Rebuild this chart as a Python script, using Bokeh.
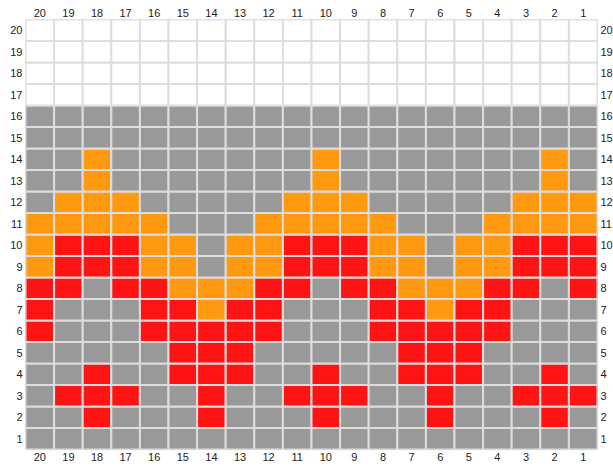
from bokeh.plotting import figure
from bokeh.models import CategoricalAxis, ColumnDataSource
from bokeh.embed import file_html
from bokeh.resources import INLINE

col_labels = [str(c) for c in range(20, 0, -1)]   # left to right
row_labels = [str(r) for r in range(1, 21)]       # bottom to top

# rows listed bottom (1) to top (20); each string reads columns 20..1 left to right
# G = gray, O = orange, R = red, W = white
rows = [
    "GGGGGGGGGGGGGGGGGGGG",  # 1
    "GGRGGGRGGGRGGGRGGGRG",  # 2
    "GRRRGGRGGRRRGGRGGRRR",  # 3
    "GGRGGRRRGGRGGRRRGGRG",  # 4
    "GGGGGRRRGGGGGRRRGGGG",  # 5
    "RGGGRRRRRGGGRRRRRGGG",  # 6
    "RGGGRRORRGGGRRORRGGG",  # 7
    "RRGRROOORRGRROOORRGR",  # 8
    "ORRROOGOORRROOGOORRR",  # 9
    "ORRROOGOORRROOGOORRR",  # 10
    "OOOOOGGGOOOOOGGGOOOO",  # 11
    "GOOOGGGGGOOOGGGGGOOO",  # 12
    "GGOGGGGGGGOGGGGGGGOG",  # 13
    "GGOGGGGGGGOGGGGGGGOG",  # 14
    "GGGGGGGGGGGGGGGGGGGG",  # 15
    "GGGGGGGGGGGGGGGGGGGG",  # 16
    "WWWWWWWWWWWWWWWWWWWW",  # 17
    "WWWWWWWWWWWWWWWWWWWW",  # 18
    "WWWWWWWWWWWWWWWWWWWW",  # 19
    "WWWWWWWWWWWWWWWWWWWW",  # 20
]

palette = {"G": "#999999", "O": "#ff990f", "R": "#ff1414", "W": "#ffffff"}

xs, ys, colors = [], [], []
for ri, row in enumerate(rows):
    for ci, ch in enumerate(row):
        xs.append(col_labels[ci])
        ys.append(row_labels[ri])
        colors.append(palette[ch])

src = ColumnDataSource(dict(x=xs, y=ys, c=colors))

p = figure(x_range=col_labels, y_range=row_labels,
           frame_width=572, frame_height=430,
           output_backend="svg", toolbar_location=None,
           x_axis_location="below", y_axis_location="left")
p.min_border_left = 25
p.min_border_right = 0
p.min_border_top = 19
p.min_border_bottom = 0
p.outline_line_color = "#dddddd"
p.grid.visible = False
p.background_fill_color = "white"

p.rect(x="x", y="y", width=1, height=1, source=src, fill_color="c",
       line_color="#dddddd", line_width=2)

p.add_layout(CategoricalAxis(), "above")
p.add_layout(CategoricalAxis(), "right")

for ax in p.axis:
    ax.axis_line_color = None
    ax.major_tick_line_color = None
    ax.minor_tick_line_color = None
    ax.major_tick_in = 0
    ax.major_tick_out = 0
    ax.major_label_standoff = 3
    ax.major_label_text_font = "Liberation Sans"
    ax.major_label_text_font_size = "11px"
    ax.major_label_text_color = "#222222"

open("out.html", "w").write(file_html(p, INLINE))
